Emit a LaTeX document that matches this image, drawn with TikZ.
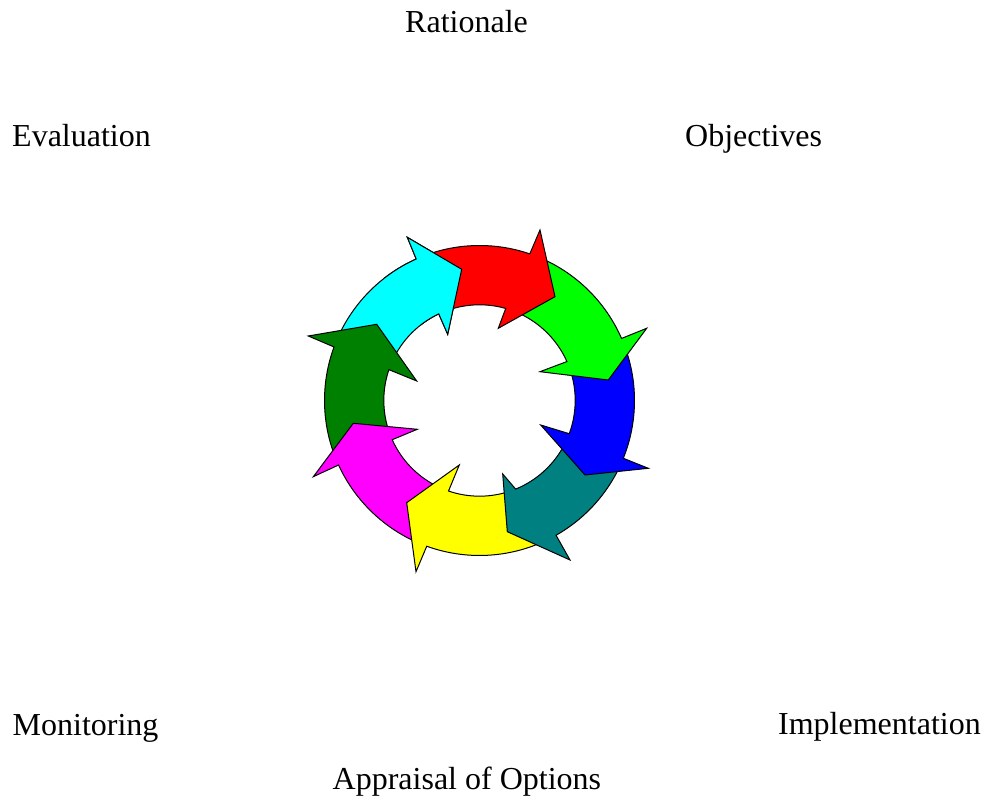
\documentclass[tikz,border=0pt]{standalone}
\usepackage{fontspec}
\setmainfont{Liberation Serif}
\definecolor{cRed}{HTML}{FF0000}
\definecolor{cLime}{HTML}{00FF00}
\definecolor{cBlue}{HTML}{0000FF}
\definecolor{cTeal}{HTML}{008080}
\definecolor{cYellow}{HTML}{FFFF00}
\definecolor{cMagenta}{HTML}{FF00FF}
\definecolor{cGreen}{HTML}{008000}
\definecolor{cCyan}{HTML}{00FFFF}
% One curved arrow of the ring (outer radius 155, inner radius 95.7).
% #1 fill colour, #2/#3 angles where the tail starts on the outer/inner rim
% (hidden under the head of the arrow before it), #4 outer notch angle,
% #5 outer barb, #6 tip, #7 inner barb, #8 inner notch angle.
\newcommand\ringarrow[8]{%
  \filldraw[ringpiece, fill=#1]
    (#2:155) arc[start angle=#2, end angle=#4, radius=155]
    -- #5 -- #6 -- #7 -- (#8:95.7)
    arc[start angle=#8, end angle=#3, radius=95.7] -- cycle;}
\newcommand\cyanarrow{\ringarrow{cCyan}{-202.2}{-200.8}{-245.9}
  {(-72.2,163.2)}{(-17.8,131.2)}{(-31.8,66.2)}{-244.8}}
\begin{document}
\begin{tikzpicture}[x=1pt, y=1pt,
  ringpiece/.style={draw=black, line width=1pt, line join=miter},
  label/.style={inner sep=0pt, font=\fontsize{32}{38}\selectfont}]
\useasboundingbox (0,0) rectangle (989,800);
\fill[white] (0,0) rectangle (989,800);
\begin{scope}[shift={(479.5,399.5)}]
  % each head lies over the tail of the next arrow round the ring
  \cyanarrow
  \ringarrow{cGreen}{-157.4}{-157.8}{-200.2}
    {(-171.2,64.5)}{(-102.8,76.2)}{(-62.8,19.5)}{-198.8}
  \ringarrow{cMagenta}{-111.9}{-110.9}{-155.4}
    {(-166.2,-76.2)}{(-126.2,-22.8)}{(-62.2,-28.8)}{-155.8}
  \ringarrow{cYellow}{-62.4}{-69.8}{-109.9}
    {(-63.5,-171.2)}{(-72.8,-102.2)}{(-20.2,-64.5)}{-108.9}
  \ringarrow{cTeal}{-23.9}{-22.3}{-60.4}
    {(90.5,-159.5)}{(27.8,-131.2)}{(23.2,-73.5)}{-67.8}
  \ringarrow{cBlue}{21.6}{22.0}{-21.9}
    {(168.8,-67.8)}{(105.5,-74.5)}{(61.2,-24.5)}{-20.3}
  \ringarrow{cLime}{69.07}{72.1}{23.6}
    {(167.2,72.2)}{(128.8,20.5)}{(60.5,28.8)}{24.0}
  \ringarrow{cRed}{112.1}{113.2}{71.07}
    {(60.5,170.5)}{(75.5,103.8)}{(18.8,72.2)}{74.1}
  % the cyan head closes the ring over the red tail
  \begin{scope}
    \clip (0,0) -- (85:230) arc[start angle=85, end angle=128, radius=230] -- cycle;
    \cyanarrow
  \end{scope}
\end{scope}
\node[label, anchor=base west] (rationale) at (405,767) {Rationale};
\node[label, anchor=base west] (evaluation) at (12,653.5) {Evaluation};
\node[label, anchor=base west] (objectives) at (685,653.5) {Objectives};
\node[label, anchor=base west] (monitoring) at (12.5,64.5) {Monitoring};
\node[label, anchor=base east] (implementation) at (981,65) {Implementation};
\node[label, anchor=base west] (appraisal) at (332.5,10) {Appraisal of Options};
\end{tikzpicture}
\end{document}
